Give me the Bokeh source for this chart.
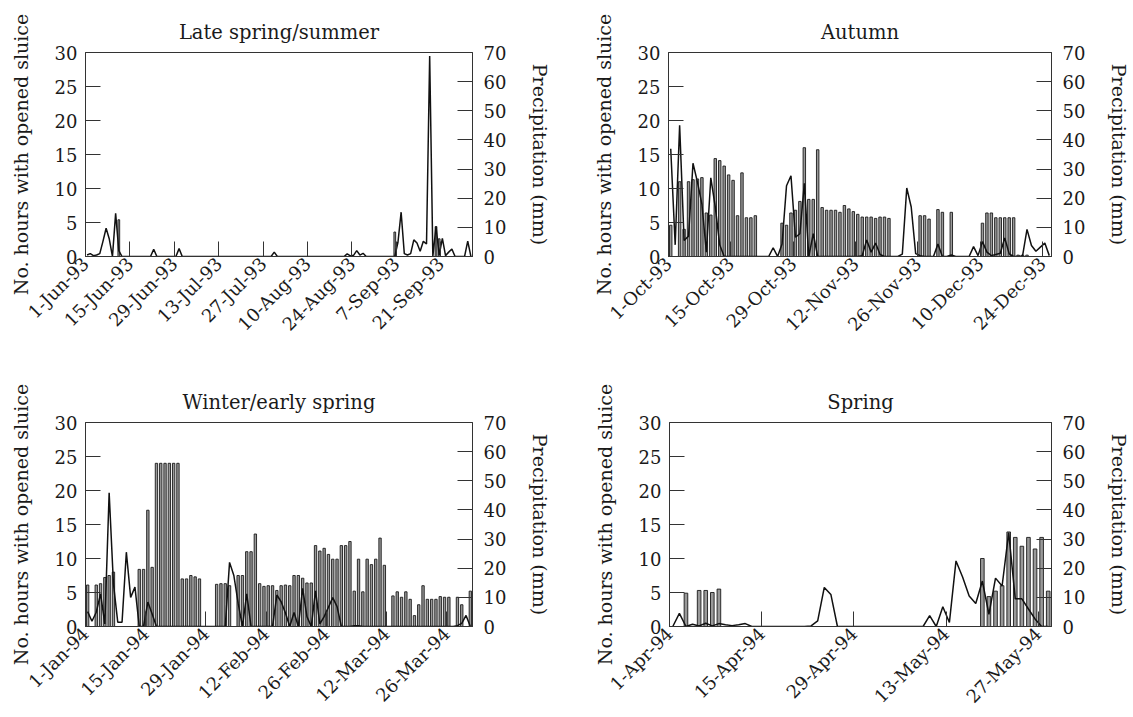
import math
from bokeh.plotting import figure
from bokeh.models import Range1d, LinearAxis, FixedTicker, ColumnDataSource
from bokeh.layouts import column, row
from bokeh.embed import file_html
from bokeh.resources import INLINE

FONT = "DejaVu Serif"
TEXT = "#1a1a1a"
AXIS = "#333333"

# ---------------- data (one value per day) ----------------
# Late spring/summer 1993: 1-Jun .. 30-Sep
P1_TITLE = "Late spring/summer"
P1_TICKS = ["1-Jun-93", "15-Jun-93", "29-Jun-93", "13-Jul-93", "27-Jul-93",
            "10-Aug-93", "24-Aug-93", "7-Sep-93", "21-Sep-93"]
P1_HOURS = [
    0, 0, 0, 0, 0, 0, 0, 0, 0, 0, 5.4, 0, 0, 0,
    0, 0, 0, 0, 0, 0, 0, 0, 0, 0, 0, 0, 0, 0,
    0, 0, 0, 0, 0, 0, 0, 0, 0, 0, 0, 0, 0, 0,
    0, 0, 0, 0, 0, 0, 0, 0, 0, 0, 0, 0, 0, 0,
    0, 0, 0, 0, 0, 0, 0, 0, 0, 0, 0, 0, 0, 0,
    0, 0, 0, 0, 0, 0, 0, 0, 0, 0, 0, 0, 0, 0,
    0, 0, 0, 0, 0, 0, 0, 0, 0, 0, 0, 0, 0, 3.6,
    0, 0, 0, 0, 0, 0, 0, 0, 0, 0, 0, 0, 4.4, 2.6,
    0, 0, 0, 0, 0, 0, 0, 0, 0, 0,
]
P1_PRECIP = [
    0.5, 1.0, 0.3, 0.5, 1.0, 5.2, 9.7, 6.0, 0, 14.8, 2.0, 0, 0, 0,
    0, 0, 0, 0, 0, 0, 0, 2.5, 0, 0, 0, 0, 0, 0,
    0, 2.7, 0, 0, 0, 0, 0, 0, 0, 0, 0, 0, 0, 0,
    0, 0, 0, 0, 0, 0, 0, 0, 0, 0, 0, 0, 0, 0,
    0, 0, 0, 1.5, 0, 0, 0, 0, 0, 0, 0, 0, 0, 0,
    0, 0, 0, 0, 0, 0, 0, 0, 0, 0, 0, 0, 0.9, 0.2,
    0.4, 2.0, 0.5, 1.1, 0, 0, 0, 0, 0, 0, 0, 0, 0, 0,
    4.9, 15.2, 1.0, 0.5, 1.0, 5.7, 4.6, 1.8, 5.2, 4.3, 68.8, 0, 10.3, 0.5,
    6.2, 0.3, 1.5, 2.6, 0, 0, 0, 0, 5.3, 0,
]

# Autumn 1993: 1-Oct .. 25-Dec
P2_TITLE = "Autumn"
P2_TICKS = ["1-Oct-93", "15-Oct-93", "29-Oct-93", "12-Nov-93", "26-Nov-93",
            "10-Dec-93", "24-Dec-93"]
P2_HOURS = [
    4.6, 0, 11, 4, 11, 11.3, 11.4, 11.6, 6.4, 6.1, 14.4, 14.1, 13.3, 12,
    11.2, 6, 12.3, 5.7, 5.7, 6.0, 0, 0, 0, 0, 0, 4.9, 4.6, 6.4,
    6.8, 8.1, 16, 8.4, 8.4, 15.7, 7.2, 6.8, 6.8, 6.8, 6.5, 7.5, 7.0, 6.6,
    6.2, 5.8, 5.8, 5.8, 5.6, 5.8, 5.8, 5.6, 0, 0, 0, 0, 0, 0,
    6.0, 6.0, 5.5, 0, 6.9, 6.5, 0, 6.5, 0, 0, 0, 0, 0, 0,
    4.9, 6.4, 6.4, 5.7, 5.7, 5.7, 5.7, 5.7, 0.2, 0.2, 0.2, 0, 0, 0,
    0, 0,
]
P2_PRECIP = [
    37, 4, 45, 5.5, 7, 32, 25.5, 18, 1.5, 27, 17, 4, 0, 0,
    0, 0, 0, 0, 0, 0, 0, 0, 0, 3, 0, 4.3, 24.3, 27.7,
    6.6, 7.8, 25.1, 0, 7.8, 0, 0, 0, 0, 0, 0, 0, 0, 0,
    0, 0.3, 5.7, 1.5, 4.6, 0.7, 0, 0, 0, 0, 0.8, 23.5, 17, 1,
    0.3, 0, 0, 0, 4.3, 0, 0, 0.5, 0, 0, 0, 0, 3.4, 0.3,
    5.1, 1.5, 0.3, 0.7, 1.1, 6.4, 0.9, 0, 0, 0.2, 9.3, 3.8, 1.8, 3.2,
    4.6, 0.3,
]

# Winter/early spring 1994: 1-Jan .. 31-Mar
P3_TITLE = "Winter/early spring"
P3_TICKS = ["1-Jan-94", "15-Jan-94", "29-Jan-94", "12-Feb-94", "26-Feb-94",
            "12-Mar-94", "26-Mar-94"]
P3_HOURS = [
    6.1, 0, 6.1, 6.3, 7.2, 7.5, 8.0, 0, 0, 0, 0, 0, 8.4, 8.4,
    17.1, 8.7, 24, 24, 24, 24, 24, 24, 7.0, 7.0, 7.5, 7.3, 7.0, 0,
    0, 0, 6.2, 6.3, 6.3, 6.0, 0, 7.5, 7.5, 11, 11, 13.6, 6.3, 5.9,
    6.0, 6.0, 5.3, 6.0, 6.1, 6.0, 7.5, 7.5, 7.1, 6.4, 6.4, 11.9, 11.1, 11.5,
    10.6, 9.9, 9.9, 11.9, 11.9, 12.5, 5.2, 9.9, 5.1, 9.9, 9.1, 9.9, 13.0, 9.0,
    0, 4.5, 5.1, 4.3, 5.1, 4.0, 1.6, 3.2, 6.0, 4.0, 4.0, 4.0, 4.4, 4.3,
    4.3, 0, 4.3, 3.2, 0, 5.2,
]
P3_PRECIP = [
    5.1, 1.8, 4.9, 11.2, 0.9, 45.9, 14.6, 1.5, 1.5, 25.5, 10, 13.5, 0, 0,
    8.4, 4.3, 0, 0, 0, 0, 0, 0, 0, 0, 0, 0, 0, 0,
    0, 0, 0, 0, 0, 22, 17.5, 8, 0, 11.2, 0, 0, 0, 0,
    0, 0, 10.8, 8.5, 4.6, 0, 4.8, 0, 13.1, 3.4, 0, 12.2, 0.9, 3.4,
    6.6, 9.9, 6.8, 0, 0, 0, 0.3, 0.3, 0, 0, 0, 0, 0, 0,
    0, 0, 0, 0, 0, 0, 0, 0, 0, 0, 0, 0, 0, 0,
    0, 0, 0.3, 1.1, 3.8, 0,
]

# Spring 1994: 1-Apr .. 28-May
P4_TITLE = "Spring"
P4_TICKS = ["1-Apr-94", "15-Apr-94", "29-Apr-94", "13-May-94", "27-May-94"]
P4_HOURS = [
    0, 0, 4.9, 0, 5.3, 5.3, 5.0, 5.5, 0, 0, 0, 0, 0, 0,
    0, 0, 0, 0, 0, 0, 0, 0, 0, 0, 0, 0, 0, 0,
    0, 0, 0, 0, 0, 0, 0, 0, 0, 0, 0, 0, 0, 0,
    0, 0, 0, 0, 0, 10, 4.4, 5.2, 6.0, 13.9, 13.1, 11.8, 13.1, 11.4,
    13.1, 5.2,
]
P4_PRECIP = [
    0, 4.5, 0, 0.8, 0.2, 1.1, 0.2, 1.0, 0.6, 0.3, 0.6, 1.0, 0, 0,
    0, 0, 0, 0, 0, 0, 0, 0.2, 1.9, 13.4, 11, 0, 0, 0,
    0, 0, 0, 0, 0, 0, 0, 0, 0, 0, 0, 3.7, 0, 6.8,
    1.4, 22.5, 17, 10.5, 7.9, 15.6, 4.2, 16.6, 13.9, 32.2, 9.5, 9.5, 6.0, 2.6,
    0, 0,
]

HOURS_TICKS = [0, 5, 10, 15, 20, 25, 30]
PRECIP_TICKS = [0, 10, 20, 30, 40, 50, 60, 70]
LEFT_LABEL = "No. hours with opened sluice"
RIGHT_LABEL = "Precipitation (mm)"


def style_axis(ax, tick_size="18px"):
    ax.axis_line_color = AXIS
    ax.axis_line_width = 1
    ax.major_tick_line_color = AXIS
    ax.major_tick_in = 15
    ax.major_tick_out = 0
    ax.minor_tick_line_color = None
    ax.major_label_text_font = FONT
    ax.major_label_text_font_size = tick_size
    ax.major_label_text_color = TEXT
    ax.axis_label_text_font = FONT
    ax.axis_label_text_font_size = "19px"
    ax.axis_label_text_font_style = "normal"
    ax.axis_label_text_color = TEXT


def build(title, hours, precip, tick_labels, w, h, left, right, top, bottom):
    n = len(hours)
    p = figure(width=w, height=h, x_range=Range1d(0, n), y_range=Range1d(0, 30),
               output_backend="svg", toolbar_location=None,
               min_border_left=left, min_border_right=right,
               min_border_top=top, min_border_bottom=bottom, title=title)
    p.extra_y_ranges = {"precip": Range1d(0, 70)}
    p.xgrid.visible = False
    p.ygrid.visible = False
    p.outline_line_color = AXIS
    p.outline_line_width = 1
    p.background_fill_color = "white"
    p.border_fill_color = "white"

    p.title.text_font = FONT
    p.title.text_font_size = "19.5px"
    p.title.text_font_style = "normal"
    p.title.text_color = TEXT
    p.title.align = "center"
    p.title.standoff = 17

    bx = [d + 0.5 for d in range(n) if hours[d] > 0]
    bt = [hours[d] for d in range(n) if hours[d] > 0]
    p.vbar(x="x", top="top", bottom=0, width=0.55,
           source=ColumnDataSource(dict(x=bx, top=bt)),
           fill_color="#999999", line_color="#1a1a1a", line_width=0.9)
    p.line(x=[d + 0.5 for d in range(n)], y=precip, y_range_name="precip",
           line_color="#111111", line_width=1.5)

    # left axis
    ly = p.yaxis[0]
    style_axis(ly)
    ly.ticker = FixedTicker(ticks=HOURS_TICKS)
    ly.axis_label = LEFT_LABEL
    ly.major_label_standoff = 8
    ly.axis_label_standoff = 20

    # right axis
    ry = LinearAxis(y_range_name="precip", ticker=FixedTicker(ticks=PRECIP_TICKS),
                    axis_label=RIGHT_LABEL)
    style_axis(ry)
    ry.major_label_standoff = 11
    ry.axis_label_standoff = 20
    p.add_layout(ry, "right")

    # bottom axis
    bx_ax = p.xaxis[0]
    style_axis(bx_ax, tick_size="18px")
    pos = [14 * i for i in range(len(tick_labels))]
    bx_ax.ticker = FixedTicker(ticks=pos)
    bx_ax.major_label_overrides = {pp: lab for pp, lab in zip(pos, tick_labels)}
    bx_ax.major_label_orientation = math.pi / 4
    bx_ax.major_label_standoff = 4
    return p


p1 = build(P1_TITLE, P1_HOURS, P1_PRECIP, P1_TICKS, 566, 357, 85, 94, 52, 101)
p2 = build(P2_TITLE, P2_HOURS, P2_PRECIP, P2_TICKS, 567, 357, 102, 77, 52, 101)
p3 = build(P3_TITLE, P3_HOURS, P3_PRECIP, P3_TICKS, 566, 360, 85, 94, 65, 90)
p4 = build(P4_TITLE, P4_HOURS, P4_PRECIP, P4_TICKS, 567, 360, 103, 77, 65, 90)

layout = column(row(p1, p2), row(p3, p4))
open("out.html", "w").write(file_html(layout, INLINE))
